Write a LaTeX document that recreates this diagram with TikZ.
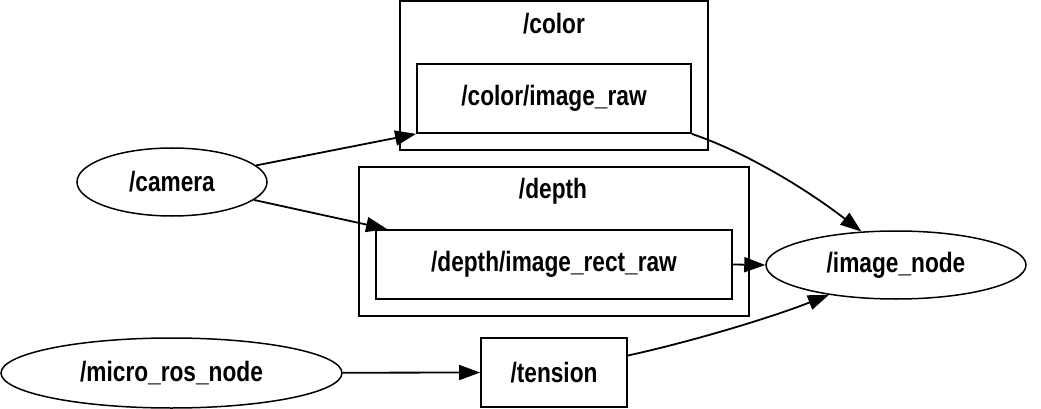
\documentclass[tikz,border=0pt]{standalone}
\usepackage{fontspec}
\setmainfont[FakeStretch=0.81]{Liberation Sans}
\usetikzlibrary{shapes.geometric,arrows.meta}
\begin{document}
\begin{tikzpicture}[x=1pt,y=-1pt,
  every node/.style={font=\fontsize{28}{32}\selectfont\bfseries, inner sep=0pt},
  nodeell/.style={draw, line width=1.5pt, ellipse},
  topicbox/.style={draw, line width=1.8pt, rectangle},
  cluster/.style={draw, line width=1.8pt, rectangle},
  arr/.style={line width=1.8pt, -{Triangle[length=21pt,width=15pt]}}]
\useasboundingbox (0,0) rectangle (1041,409);
% clusters
\node[cluster, minimum width=308pt, minimum height=149pt] (ccol) at (554,75.5) {};
\node (ccolt) at (554,24) {/color};
\node[cluster, minimum width=390pt, minimum height=149pt] (cdep) at (554,241.5) {};
\node (cdept) at (553,191) {/depth};
% topics
\node[topicbox, minimum width=274pt, minimum height=69pt] (cir) at (554,98.5) {/color/image\_raw};
\node[topicbox, minimum width=356pt, minimum height=69pt] (drr) at (554,264.5) {/depth/image\_rect\_raw};
\node[topicbox, minimum width=146pt, minimum height=69pt] (ten) at (554,372.5) {/tension};
% nodes
\node[nodeell, minimum width=190pt, minimum height=68pt] (cam) at (172,182) {/camera};
\node[nodeell, minimum width=260pt, minimum height=68pt] (img) at (896,265) {/image\_node};
\node[nodeell, minimum width=341pt, minimum height=70pt] (mic) at (171.5,373) {/micro\_ros\_node};
% edges
\draw[arr] (cam) -- (cir.south west);
\draw[arr] (cam) -- ([xshift=12pt]drr.north west);
\draw[arr] (drr.east) -- (img.west);
\draw[arr] (mic) -- (ten.west);
\draw[arr] (cir.south east) .. controls (745,152) and (805,188) .. (img.136);
\draw[arr] ([yshift=17pt]ten.east) .. controls (690,342) and (770,318) .. (img.204);
\end{tikzpicture}
\end{document}
